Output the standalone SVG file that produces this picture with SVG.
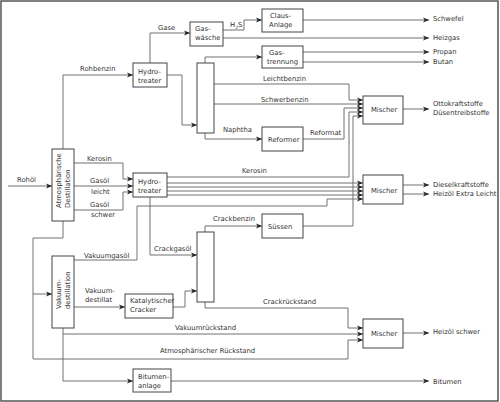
<svg xmlns="http://www.w3.org/2000/svg" width="500" height="402" viewBox="0 0 500 402">
<style>
text{font-family:"DejaVu Sans","Liberation Sans",sans-serif;font-size:6.8px;fill:#333}
.b{fill:#fff;stroke:#444;stroke-width:1}
.c path{fill:none;stroke:#707070;stroke-width:1}
</style>
<defs>
<marker id="a" markerWidth="6" markerHeight="6" refX="6" refY="3" orient="auto" markerUnits="userSpaceOnUse"><path d="M0,0.6 L6,3 L0,5.4 L1.6,3 Z" fill="#222"/></marker>
</defs>
<rect x="1" y="1" width="497" height="400" fill="#fff" stroke="#555" stroke-width="1.5"/>
<g class="c">
<path d="M8,186 H52" marker-end="url(#a)"/>
<path d="M63,149 V75 H133" marker-end="url(#a)"/>
<path d="M150,63 V33 H190" marker-end="url(#a)"/>
<path d="M223,30 H244 V20 H262" marker-end="url(#a)"/>
<path d="M303,20 H429" marker-end="url(#a)"/>
<path d="M223,38 H429" marker-end="url(#a)"/>
<path d="M303,52 H429" marker-end="url(#a)"/>
<path d="M303,62 H429" marker-end="url(#a)"/>
<path d="M167,75 H182 V125 H197" marker-end="url(#a)"/>
<path d="M205,63 V57 H262" marker-end="url(#a)"/>
<path d="M214,84 H349 V100 H363" marker-end="url(#a)"/>
<path d="M214,104 H363" marker-end="url(#a)"/>
<path d="M205,133 V139 H262" marker-end="url(#a)"/>
<path d="M303,139 H344 V108 H363" marker-end="url(#a)"/>
<path d="M167,177 H349 V112 H363" marker-end="url(#a)"/>
<path d="M303,226 H353 V116 H363" marker-end="url(#a)"/>
<path d="M74,163 H123 V179 H133" marker-end="url(#a)"/>
<path d="M74,186 H133" marker-end="url(#a)"/>
<path d="M74,210 H123 V192 H133" marker-end="url(#a)"/>
<path d="M167,183 H363" marker-end="url(#a)"/>
<path d="M167,187 H363" marker-end="url(#a)"/>
<path d="M167,191 H363" marker-end="url(#a)"/>
<path d="M167,195 H363" marker-end="url(#a)"/>
<path d="M74,260 H137 V206 H327 V199 H363" marker-end="url(#a)"/>
<path d="M150,197 V255 H197" marker-end="url(#a)"/>
<path d="M63,221 V238 H33 V359 H348 V340 H363" marker-end="url(#a)"/>
<path d="M33,294 H52" marker-end="url(#a)"/>
<path d="M74,307 H125" marker-end="url(#a)"/>
<path d="M173,307 H185 V291 H197" marker-end="url(#a)"/>
<path d="M205,232 V226 H262" marker-end="url(#a)"/>
<path d="M205,302 V308 H348 V328 H363" marker-end="url(#a)"/>
<path d="M63,328 V334 H363" marker-end="url(#a)"/>
<path d="M63,334 V381 H133" marker-end="url(#a)"/>
<path d="M171,381 H429" marker-end="url(#a)"/>
<path d="M403,109 H429" marker-end="url(#a)"/>
<path d="M403,185 H429" marker-end="url(#a)"/>
<path d="M403,194 H429" marker-end="url(#a)"/>
<path d="M403,333 H429" marker-end="url(#a)"/>
</g>
<g id="hydrotreater1"><rect class="b" x="133" y="63" width="34" height="24"/><text x="138" y="74">Hydro-</text><text x="138" y="82.5">treater</text></g>
<g id="gaswaesche"><rect class="b" x="190" y="22" width="33" height="24"/><text x="195" y="31">Gas-</text><text x="195" y="40">wäsche</text></g>
<g id="claus"><rect class="b" x="262" y="9" width="41" height="23"/><text x="270" y="18">Claus-</text><text x="269" y="27">Anlage</text></g>
<g id="gastrennung"><rect class="b" x="262" y="46" width="41" height="22"/><text x="269" y="55">Gas-</text><text x="267" y="64">trennung</text></g>
<g id="kolonne1"><rect class="b" x="197" y="63" width="17" height="70"/></g>
<g id="reformer"><rect class="b" x="262" y="127" width="41" height="24"/><text x="268" y="142">Reformer</text></g>
<g id="mischer1"><rect class="b" x="363" y="96" width="40" height="28"/><text x="371" y="112">Mischer</text></g>
<g id="mischer2"><rect class="b" x="363" y="175" width="40" height="29"/><text x="371" y="193">Mischer</text></g>
<g id="mischer3"><rect class="b" x="363" y="319" width="40" height="29"/><text x="371" y="336">Mischer</text></g>
<g id="atmdest"><rect class="b" x="52" y="149" width="22" height="72"/><text transform="translate(61,208) rotate(-90)">Atmosphärische</text><text transform="translate(69.5,208) rotate(-90)">Destillation</text></g>
<g id="hydrotreater2"><rect class="b" x="133" y="173" width="34" height="24"/><text x="138" y="184">Hydro-</text><text x="138" y="192.5">treater</text></g>
<g id="vakdest"><rect class="b" x="52" y="256" width="22" height="72"/><text transform="translate(61,309) rotate(-90)">Vakuum-</text><text transform="translate(69.5,309) rotate(-90)">destillation</text></g>
<g id="cracker"><rect class="b" x="125" y="294" width="48" height="24"/><text x="130" y="303">Katalytischer</text><text x="130" y="312">Cracker</text></g>
<g id="kolonne2"><rect class="b" x="197" y="232" width="17" height="70"/></g>
<g id="suessen"><rect class="b" x="262" y="214" width="41" height="24"/><text x="268" y="229">Süssen</text></g>
<g id="bitumenanlage"><rect class="b" x="133" y="369" width="38" height="23"/><text x="138" y="379">Bitumen-</text><text x="138" y="387.5">anlage</text></g>
<g id="labels">
<text x="17" y="182">Rohöl</text>
<text x="80" y="71">Rohbenzin</text>
<text x="158" y="30">Gase</text>
<text x="230" y="27">H<tspan font-size="4.5" dy="1.5">2</tspan><tspan dy="-1.5">S</tspan></text>
<text x="263" y="81">Leichtbenzin</text>
<text x="261" y="102">Schwerbenzin</text>
<text x="223" y="132">Naphtha</text>
<text x="310" y="135">Reformat</text>
<text x="433" y="21">Schwefel</text>
<text x="433" y="40">Heizgas</text>
<text x="433" y="54">Propan</text>
<text x="433" y="64">Butan</text>
<text x="433" y="105.5">Ottokraftstoffe</text>
<text x="433" y="115">Düsentreibstoffe</text>
<text x="87" y="161">Kerosin</text>
<text x="90" y="183">Gasöl</text>
<text x="91" y="194">leicht</text>
<text x="90" y="207">Gasöl</text>
<text x="91" y="217">schwer</text>
<text x="242" y="173">Kerosin</text>
<text x="433" y="187">Dieselkraftstoffe</text>
<text x="433" y="196">Heizöl Extra Leicht</text>
<text x="213" y="221">Crackbenzin</text>
<text x="154" y="251">Crackgasöl</text>
<text x="84" y="258">Vakuumgasöl</text>
<text x="85" y="293">Vakuum-</text>
<text x="85" y="302">destillat</text>
<text x="263" y="304">Crackrückstand</text>
<text x="175" y="330">Vakuumrückstand</text>
<text x="160" y="353">Atmosphärischer Rückstand</text>
<text x="433" y="334">Heizöl schwer</text>
<text x="433" y="384">Bitumen</text>
</g>
</svg>
